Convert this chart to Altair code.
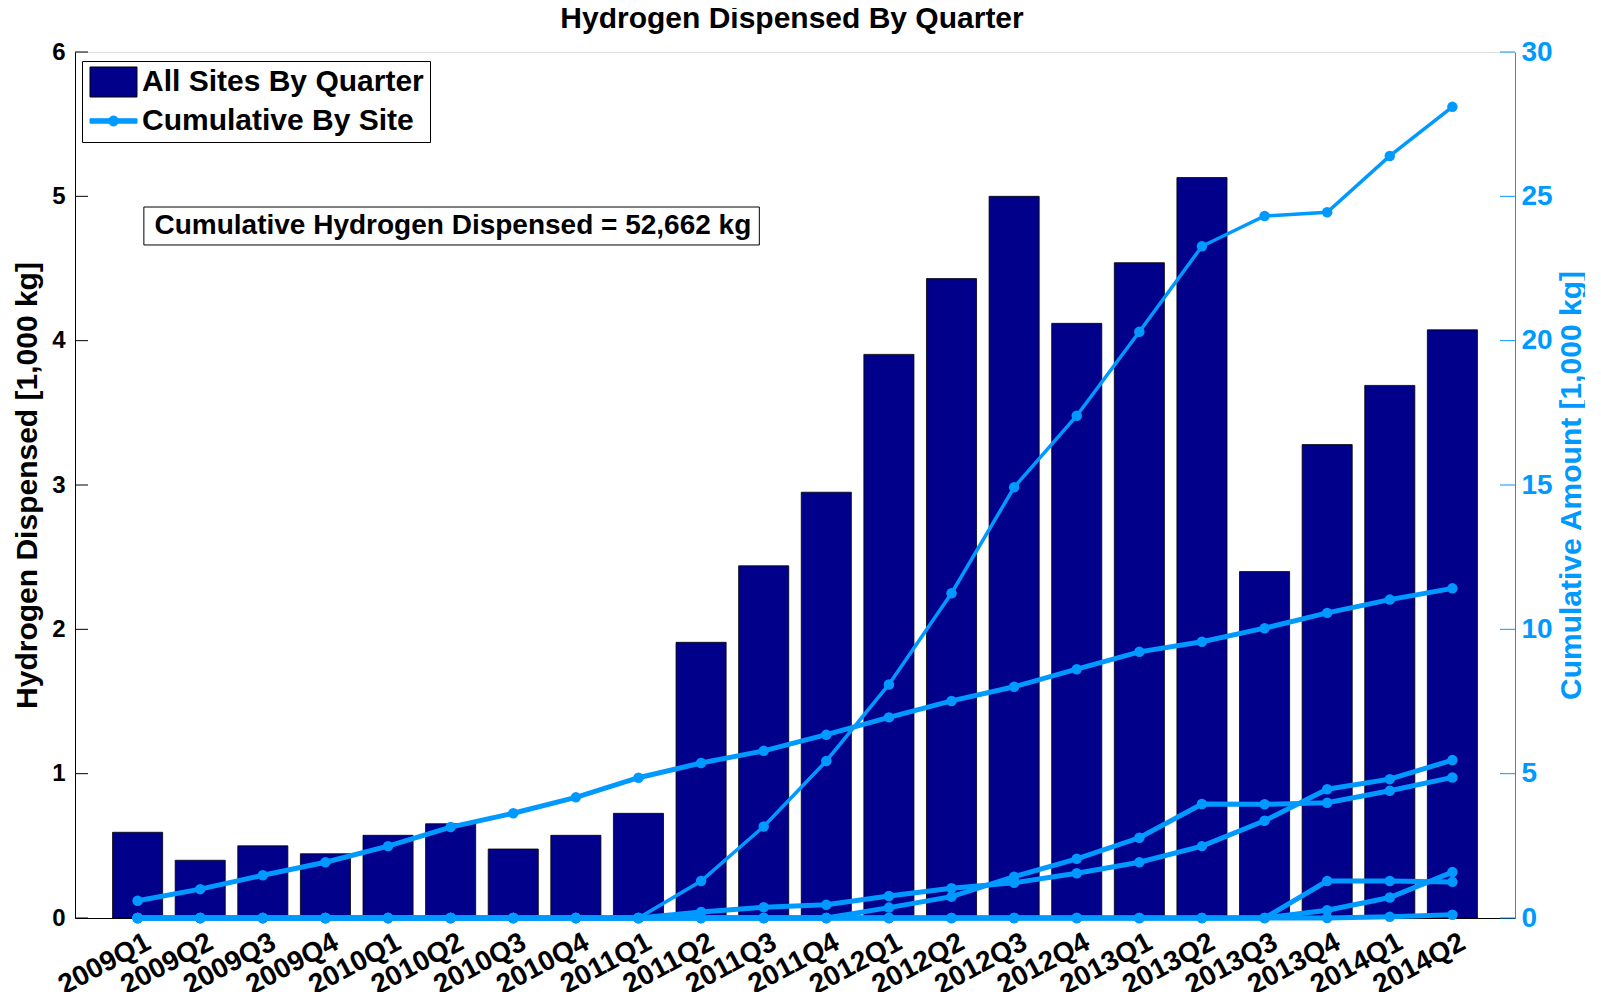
import altair as alt
import pandas as pd

# ---------------- data ----------------
quarters = ["2009Q1", "2009Q2", "2009Q3", "2009Q4", "2010Q1", "2010Q2", "2010Q3", "2010Q4",
            "2011Q1", "2011Q2", "2011Q3", "2011Q4", "2012Q1", "2012Q2", "2012Q3", "2012Q4",
            "2013Q1", "2013Q2", "2013Q3", "2013Q4", "2014Q1", "2014Q2"]

all_sites_by_quarter = [0.594, 0.40, 0.50, 0.445, 0.573, 0.653, 0.478, 0.573, 0.725, 1.91, 2.44,
                        2.95, 3.905, 4.43, 5.00, 4.12, 4.54, 5.13, 2.40, 3.28, 3.69, 4.075]

site_1 = [0.60, 1.00, 1.48, 1.93, 2.49, 3.15, 3.63, 4.18, 4.86, 5.37, 5.79, 6.35, 6.95, 7.52,
          8.01, 8.62, 9.22, 9.57, 10.04, 10.57, 11.03, 11.42]
site_2 = [0, 0, 0, 0, 0, 0, 0, 0, 0, 1.28, 3.17, 5.44, 8.09, 11.25, 14.92, 17.40, 20.31, 23.27,
          24.32, 24.45, 26.40, 28.10]
site_3 = [0, 0, 0, 0, 0, 0, 0, 0, 0, 0, 0, 0, 0.36, 0.74, 1.43, 2.05, 2.78, 3.95, 3.94, 3.99,
          4.41, 4.87]
site_4 = [0, 0, 0, 0, 0, 0, 0, 0, 0, 0.21, 0.37, 0.46, 0.76, 1.03, 1.22, 1.55, 1.93, 2.49, 3.37,
          4.46, 4.81, 5.47]
site_5 = [0, 0, 0, 0, 0, 0, 0, 0, 0, 0, 0, 0, 0, 0, 0, 0, 0, 0, 0, 1.28, 1.28, 1.25]
site_6 = [0, 0, 0, 0, 0, 0, 0, 0, 0, 0, 0, 0, 0, 0, 0, 0, 0, 0, 0, 0.27, 0.71, 1.59]
site_7 = [0, 0, 0, 0, 0, 0, 0, 0, 0, 0, 0, 0, 0, 0, 0, 0, 0, 0, 0, 0, 0.04, 0.11]

site_names = ["Site 1", "Site 2", "Site 3", "Site 4", "Site 5", "Site 6", "Site 7"]
site_series = [site_1, site_2, site_3, site_4, site_5, site_6, site_7]

left_ticks = [0, 1, 2, 3, 4, 5, 6]
right_ticks = [0, 5, 10, 15, 20, 25, 30]

title_text = "Hydrogen Dispensed By Quarter"
left_title = "Hydrogen Dispensed [1,000 kg]"
right_title = "Cumulative Amount [1,000 kg]"
bar_label = "All Sites By Quarter"
line_label = "Cumulative By Site"
note_text = "Cumulative Hydrogen Dispensed = 52,662 kg"
note_box_x = [1.10, 10.93]
note_box_y = [4.663, 4.926]
note_text_xy = [1.27, 4.795]

# ---------------- style ----------------
W, H = 1440, 866
FONT = "Liberation Sans"
YELLOW = "#F9D04C"
NAVY = "#00008B"
BLUE = "#0099FF"

positions = list(range(1, len(quarters) + 1))
bar_df = pd.DataFrame({"pos": positions, "quarter": quarters, "value": all_sites_by_quarter})
line_rows = []
for name, series in zip(site_names, site_series):
    for p, v in zip(positions, series):
        line_rows.append({"pos": p, "site": name, "value": v})
line_df = pd.DataFrame(line_rows)

note_df = pd.DataFrame({"x1": [note_box_x[0]], "x2": [note_box_x[1]],
                        "y1": [note_box_y[0]], "y2": [note_box_y[1]],
                        "tx": [note_text_xy[0]], "ty": [note_text_xy[1]], "text": [note_text]})
title_df = pd.DataFrame({"t": [title_text]})
lt_df = pd.DataFrame({"v": left_ticks})
rt_df = pd.DataFrame({"v": right_ticks})
# legend-only entries (drawn clipped, outside the plot's value range)
key_df = pd.DataFrame({"kind": [bar_label, line_label], "kx": [1, 1], "ky": [-5, -5]})

# ---------------- scales & axes ----------------
label_js = "[" + ",".join("'" + q + "'" for q in quarters) + "][datum.value - 1]"
x_scale = alt.Scale(domain=[0, len(quarters) + 1], nice=False, zero=False)
x_axis = alt.Axis(values=positions, labelExpr=label_js, labelAngle=332, labelAlign="right",
                  labelBaseline="top", labelFont=FONT, labelFontSize=28, labelFontWeight="bold",
                  labelColor="black", ticks=False, tickSize=0, labelPadding=10, labelOffset=4,
                  domainColor="black", domainWidth=1, grid=False, title=None, labelOverlap=False,
                  labelFlush=False, labelBound=False)

yl_scale = alt.Scale(domain=[0, 6], nice=False, zero=True)
yl_axis = alt.Axis(values=left_ticks, title=left_title, titleFont=FONT, titleFontSize=30,
                   titleFontWeight="bold", titleColor="black", titleAngle=270, titleX=-39,
                   titleY=H / 2, titleAlign="center", titleBaseline="alphabetic",
                   labelFont=FONT, labelFontSize=24, labelFontWeight="bold", labelColor="black",
                   ticks=False, tickSize=0, labelPadding=10, domainColor="black", domainWidth=1,
                   grid=False, labelFlush=False)

yr_scale = alt.Scale(domain=[0, 30], nice=False, zero=True)
yr_axis = alt.Axis(orient="right", values=right_ticks, title=right_title, titleFont=FONT,
                   titleFontSize=30, titleFontWeight="bold", titleColor=BLUE, titleAngle=270,
                   titleX=65, titleY=H / 2, titleAlign="center", titleBaseline="alphabetic",
                   labelFont=FONT, labelFontSize=28, labelFontWeight="bold", labelColor=BLUE,
                   ticks=False, tickSize=0, labelPadding=6, domainColor=BLUE, domainWidth=1,
                   grid=False, labelFlush=False)

# legend symbols: nominal size 26px (unit = 13px); drawn 47px wide starting at the nominal left edge
RECT_PATH = "M-1,-1.154L2.615,-1.154L2.615,1.154L-1,1.154Z"
LINE_PATH = ("M-1,-0.17L2.615,-0.17L2.615,0.17L-1,0.17Z "
             "M1.193,0A0.385,0.385 0 1,1 0.423,0A0.385,0.385 0 1,1 1.193,0Z")

legend = alt.Legend(orient="none", legendX=7, legendY=9, title=None, padding=6,
                    fillColor="white", strokeColor="black", labelFont=FONT, labelFontSize=30,
                    labelFontWeight="bold", labelColor="black", labelLimit=500,
                    symbolSize=676, labelOffset=24, rowPadding=6, symbolStrokeWidth=1,
                    symbolOpacity=1)
key_domain = [bar_label, line_label]

X = lambda f: alt.X(f, scale=x_scale, axis=x_axis)
YL = lambda f: alt.Y(f, scale=yl_scale, axis=yl_axis)
YR = lambda f: alt.Y(f, scale=yr_scale, axis=yr_axis)

bars = alt.Chart(bar_df).transform_calculate(
    x0="datum.pos - 0.4", x1="datum.pos + 0.4", base="0"
).mark_bar(color=NAVY, stroke="black", strokeWidth=0.8).encode(
    x=X("x0:Q"), x2="x1:Q", y=YL("value:Q"), y2="base:Q"
)
note_rect = alt.Chart(note_df).mark_rect(fill="white", stroke="black", strokeWidth=1).encode(
    x=X("x1:Q"), x2="x2:Q", y=YL("y1:Q"), y2="y2:Q"
)
note = alt.Chart(note_df).mark_text(align="left", baseline="middle", font=FONT, fontSize=28,
                                    fontWeight="bold", color="black").encode(
    x=X("tx:Q"), y=YL("ty:Q"), text="text:N"
)
title_mark = alt.Chart(title_df).mark_text(align="center", baseline="alphabetic", font=FONT,
                                           fontSize=30, fontWeight="bold", color="black").encode(
    text="t:N", x=alt.value(W / 2 - 3), y=alt.value(-24)
)
lticks = alt.Chart(lt_df).mark_rule(color="black", strokeWidth=1).encode(
    y=YL("v:Q"), x=alt.value(0), x2=alt.value(13)
)
key = alt.Chart(key_df).mark_point(filled=True, opacity=1, clip=True, strokeWidth=1).encode(
    x=X("kx:Q"), y=YL("ky:Q"),
    color=alt.Color("kind:N", scale=alt.Scale(domain=key_domain, range=[NAVY, BLUE]), legend=legend),
    shape=alt.Shape("kind:N", scale=alt.Scale(domain=key_domain, range=[RECT_PATH, LINE_PATH]),
                    legend=legend),
    stroke=alt.Stroke("kind:N", scale=alt.Scale(domain=key_domain, range=["black", BLUE]),
                      legend=legend),
)
left = alt.layer(bars, note_rect, note, title_mark, lticks, key)

lines = alt.Chart(line_df).mark_line(color=BLUE).encode(
    x=X("pos:Q"), y=YR("value:Q"), detail="site:N",
    strokeWidth=alt.condition(alt.datum.site == "Site 2", alt.value(3.5), alt.value(5)),
)
points = alt.Chart(line_df).mark_circle(size=110, opacity=1, color=BLUE).encode(
    x=X("pos:Q"), y=YR("value:Q")
)
rticks = alt.Chart(rt_df).mark_rule(color=BLUE, strokeWidth=1).encode(
    y=YR("v:Q"), x=alt.value(W - 15), x2=alt.value(W)
)
right = alt.layer(lines, points, rticks)

chart = alt.layer(left, right).resolve_scale(y="independent").properties(
    width=W, height=H,
    padding={"left": 67, "top": 44, "right": 70, "bottom": 74},
    autosize=alt.AutoSizeParams(type="none"),
).configure_view(fill=YELLOW, stroke="transparent").configure(background="white")

chart.save("out.html", embed_options={"renderer": "svg", "actions": False})
